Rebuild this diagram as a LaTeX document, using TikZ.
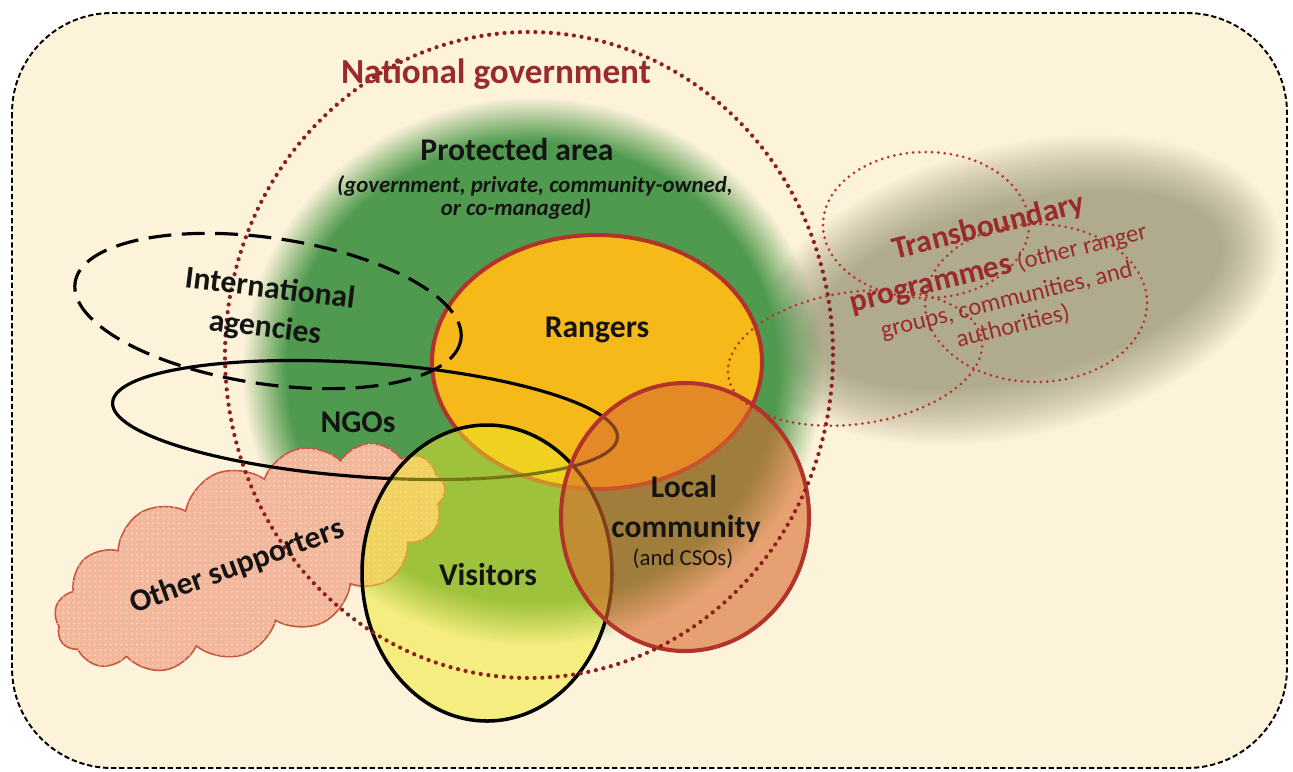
\documentclass[tikz,border=0pt]{standalone}
\usepackage{fontspec}
\setmainfont{Carlito}
\usetikzlibrary{shapes.symbols,patterns}
\definecolor{bgcream}{RGB}{253,242,218}
\definecolor{pagreen}{RGB}{79,154,79}
\definecolor{tbgrey}{RGB}{176,171,142}
\definecolor{rangerfill}{RGB}{245,185,25}
\definecolor{redline}{RGB}{179,51,42}
\definecolor{locfill}{RGB}{216,106,46}
\definecolor{visfill}{RGB}{238,234,40}
\definecolor{cloudfill}{RGB}{243,184,156}
\definecolor{cloudline}{RGB}{201,85,63}
\definecolor{natdotc}{RGB}{142,31,31}
\definecolor{tbdotc}{RGB}{184,52,42}
\definecolor{redtext}{RGB}{155,43,43}
\definecolor{txt}{RGB}{20,20,20}
\begin{document}
\begin{tikzpicture}[x=0.02cm,y=-0.02cm,
  bgbox/.style={fill=bgcream, draw=black, line width=1.1pt, dash pattern=on 3pt off 1.6pt, rounded corners=2cm},
  lbl/.style={font=\fontsize{18}{22}\selectfont\bfseries, text=txt, inner sep=0pt},
  ital/.style={font=\fontsize{13}{16}\selectfont\bfseries\itshape, text=txt, inner sep=0pt},
  small/.style={font=\fontsize{13}{16}\selectfont, text=txt, inner sep=0pt},
  tbblock/.style={font=\fontsize{14}{15}\selectfont, text=redtext, inner sep=0pt, align=center, rotate=14},
  natdot/.style={draw=natdotc, line width=2.4pt, line cap=round, dash pattern=on 0pt off 4.4pt},
  tbdot/.style={draw=tbdotc, line width=1.7pt, line cap=round, dash pattern=on 0pt off 3.6pt},
  rangerstyle/.style={fill=rangerfill, draw=redline, line width=2.3pt},
  ngoline/.style={draw=black, line width=1.8pt},
  intlline/.style={draw=black, line width=1.8pt, dash pattern=on 13pt off 6pt},
  visline/.style={draw=black, line width=2pt},
  locline/.style={draw=redline, line width=2.3pt},
  cloudstyle/.style={cloud, cloud puffs=15, cloud puff arc=115, cloud ignores aspect,
    fill=cloudfill, draw=cloudline, line width=0.9pt,
    postaction={pattern=dots, pattern color=white!55!cloudfill},
    minimum width=8.3cm, minimum height=3.6cm, inner sep=0pt}
]
\useasboundingbox (0,0) rectangle (1293,771);
\fill[white] (0,0) rectangle (1293,771);
\draw[bgbox] (12,13) rectangle (1287,768);

% soft transboundary blob
\foreach \i in {1,...,30}{
  \pgfmathsetmacro\op{1/(31-\i)}
  \pgfmathsetmacro\rx{238+30-(\i-1)*60/29}
  \pgfmathsetmacro\ry{116+30-(\i-1)*60/29}
  \fill[tbgrey, opacity=\op] (1018,290) ellipse [x radius=\rx, y radius=\ry, rotate=14];
}
% soft protected-area blob
\foreach \i in {1,...,30}{
  \pgfmathsetmacro\op{1/(31-\i)}
  \pgfmathsetmacro\rx{268+22-(\i-1)*44/29}
  \pgfmathsetmacro\ry{252+22-(\i-1)*44/29}
  \fill[pagreen, opacity=\op] (533,372) ellipse [x radius=\rx, y radius=\ry];
}

% other supporters cloud
\node[cloudstyle, rotate=22] (sup) at (250,557) {};

% rangers
\draw[rangerstyle] (597,362) ellipse [x radius=165, y radius=127];

% NGOs and international agencies
\draw[ngoline] (365,420) ellipse [x radius=253, y radius=57, rotate=-4];
\draw[intlline] (268,311) ellipse [x radius=195, y radius=73, rotate=-8.4];

% visitors
\fill[visfill, opacity=.5] (487,573) ellipse [x radius=125, y radius=148];
\draw[visline] (487,573) ellipse [x radius=125, y radius=148];

% local community
\fill[locfill, opacity=.6] (685,517) ellipse [x radius=124, y radius=134];
\draw[locline] (685,517) ellipse [x radius=124, y radius=134];

% national government and transboundary dotted outlines
\draw[natdot] (529,355) ellipse [x radius=304, y radius=323];
\draw[tbdot] (926,225) ellipse [x radius=103, y radius=73];
\draw[tbdot] (1036,303) ellipse [x radius=111, y radius=79];
\draw[tbdot] (855,358) ellipse [x radius=128, y radius=66, rotate=8];

% labels
\node[lbl, text=redtext, font=\fontsize{20}{24}\selectfont\bfseries, anchor=base] (natlbl) at (496,83) {National government};
\node[lbl, anchor=base] (palbl) at (517,160) {Protected area};
\node[ital, anchor=base] (pa1) at (535,192) {(government, private, community-owned,};
\node[ital, anchor=base] (pa2) at (516,215) {or co-managed)};
\node[lbl, anchor=base] (rglbl) at (597,337) {Rangers};
\node[lbl, anchor=base, rotate=-7] (ia1) at (269,298) {International};
\node[lbl, anchor=base, rotate=-7] (ia2) at (264,337) {agencies};
\node[lbl, anchor=base] (ngolbl) at (358,432) {NGOs};
\node[lbl, anchor=base] (vislbl) at (488,585) {Visitors};
\node[lbl, anchor=base] (lc1) at (684,497) {Local};
\node[lbl, anchor=base] (lc2) at (686,537) {community};
\node[small, anchor=base] (lc3) at (683,565) {(and CSOs)};
\node[lbl, rotate=20] (suplbl) at (237,567) {Other supporters};
\node[tbblock, anchor=north] (tblbl) at (985,214)
  {{\fontsize{18}{22}\selectfont\bfseries Transboundary}\\[8.2pt]
   {\fontsize{18}{22}\selectfont\bfseries programmes} (other ranger\\[3.7pt]
   groups, communities, and\\[0.3pt]
   authorities)};
\end{tikzpicture}
\end{document}
